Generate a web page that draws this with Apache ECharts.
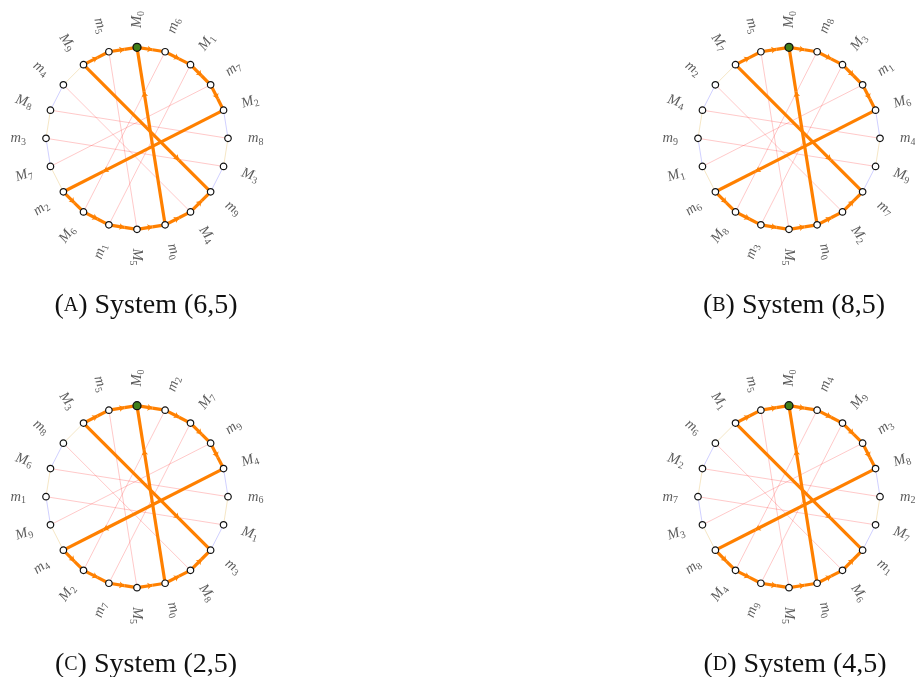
<!DOCTYPE html>
<html><head><meta charset="utf-8">
<script src="https://cdn.jsdelivr.net/npm/echarts@6/dist/echarts.min.js"></script>
<style>html,body{margin:0;padding:0;background:#fff}#c{width:915px;height:677px}</style>
</head><body><div id="c"></div>
<script>
// ---- data ----
const orderA = ['M0','m6','M1','m7','M2','m8','M3','m9','M4','m0','M5','m1','M6','m2','M7','m3','M8','m4','M9','m5'];
const orderB = ['M0','m8','M3','m1','M6','m4','M9','m7','M2','m0','M5','m3','M8','m6','M1','m9','M4','m2','M7','m5'];
const orderC = ['M0','m2','M7','m9','M4','m6','M1','m3','M8','m0','M5','m7','M2','m4','M9','m1','M6','m8','M3','m5'];
const orderD = ['M0','m4','M9','m3','M8','m2','M7','m1','M6','m0','M5','m9','M4','m8','M3','m7','M2','m6','M1','m5'];
const panelLetters = ['A','B','C','D'];
const panelSystems = ['6,5','8,5','2,5','4,5'];
// orange directed edges, as positions around the circle (same in every panel)
const orangeRim = [[18,19],[19,0],[0,1],[1,2],[2,3],[3,4],[13,12],[12,11],[11,10],[10,9],[9,8],[8,7]];
const orangeChords = [[4,13],[9,0],[18,7]];
const startPos = 0;
const matchIdx = [0,1,2,3,4,5,6,7,8,9];

// ---- layout / style ----
const orders = [orderA, orderB, orderC, orderD];
const centers = [[137,138.3],[789,138.3],[137,496.7],[789,496.7]];
const captionPos = [[141,302],[789,302],[141,661],[790,661]];
const NODE_R = 1, LABEL_R = 1.305, PIX_R = 91;
const ORANGE = '#ff8000';
const PINK = 'rgba(255,60,60,0.28)';
const BLUE = 'rgba(120,120,255,0.35)';
const YELLOW = 'rgba(235,205,140,0.5)';
const RIM_ARROW_AT = 0.55, CHORD_ARROW_AT = 0.75;

function labelRich(name){ return '{v|' + name[0] + '}{s|' + name.slice(1) + '}'; }

const polar = [], angleAxis = [], radiusAxis = [], series = [], title = [];
orders.forEach((order, k) => {
  const n = order.length, step = 360 / n;
  polar.push({ center: centers[k], radius: PIX_R * LABEL_R });
  angleAxis.push({ polarIndex: k, type: 'value', min: 0, max: 360, startAngle: 90, clockwise: true, show: false });
  radiusAxis.push({ polarIndex: k, type: 'value', min: 0, max: LABEL_R, show: false });

  const orangeSet = new Set();
  orangeRim.concat(orangeChords).forEach(([a,b]) => orangeSet.add(Math.min(a,b) + '-' + Math.max(a,b)));
  const isOrange = (a,b) => orangeSet.has(Math.min(a,b) + '-' + Math.max(a,b));

  const nodes = order.map((name, i) => ({
    name, value: [NODE_R, i * step],
    symbolSize: i === startPos ? 8 : 6.5,
    itemStyle: i === startPos ? { color: '#3f7f1a', borderColor: '#111', borderWidth: 1.3 }
                              : { color: '#fff', borderColor: '#111', borderWidth: 1.2 }
  }));
  const edges = [];
  // rim
  for (let i = 0; i < n; i++) {
    const j = (i + 1) % n;
    if (isOrange(i,j)) continue;
    edges.push({ source: order[i], target: order[j], lineStyle: { color: i % 2 === 0 ? BLUE : YELLOW, width: 1 } });
  }
  // matching chords M_i - m_i
  matchIdx.forEach(d => {
    const a = order.indexOf('M' + d), b = order.indexOf('m' + d);
    if (isOrange(a,b)) return;
    edges.push({ source: order[a], target: order[b], lineStyle: { color: PINK, width: 1 } });
  });
  // orange edges, split at an arrow point
  const addOrange = (a, b, f, id) => {
    const ta = a * step * Math.PI / 180, tb = b * step * Math.PI / 180;
    const x = Math.sin(ta) + f * (Math.sin(tb) - Math.sin(ta));
    const y = Math.cos(ta) + f * (Math.cos(tb) - Math.cos(ta));
    const r = Math.hypot(x, y);
    let th = Math.atan2(x, y) * 180 / Math.PI; if (th < 0) th += 360;
    const mid = 'mid' + id;
    nodes.push({ name: mid, value: [r * NODE_R, th], symbolSize: 0, itemStyle: { opacity: 0 } });
    edges.push({ source: order[a], target: mid, symbol: ['none', 'arrow'], symbolSize: [0, 5],
                 lineStyle: { color: ORANGE, width: 3.2 } });
    edges.push({ source: mid, target: order[b], lineStyle: { color: ORANGE, width: 3.2 } });
  };
  orangeRim.forEach(([a,b], i) => addOrange(a, b, RIM_ARROW_AT, 'r' + i));
  orangeChords.forEach(([a,b], i) => addOrange(a, b, CHORD_ARROW_AT, 'c' + i));

  series.push({
    type: 'graph', coordinateSystem: 'polar', polarIndex: k,
    data: nodes, edges: edges, symbol: 'circle',
    lineStyle: { opacity: 1, curveness: 0 },
    label: { show: false }, emphasis: { disabled: true }, silent: true, z: 2
  });

  series.push({
    type: 'scatter', coordinateSystem: 'polar', polarIndex: k, clip: false,
    symbolSize: 0, silent: true, z: 3,
    data: order.map((name, i) => {
      const phi = 90 - i * step; // math angle
      const c = Math.cos(phi * Math.PI / 180);
      let rot = phi;
      if (c < -1e-6) rot = phi + 180;
      rot = ((rot % 360) + 540) % 360 - 180;
      return { value: [LABEL_R, i * step], label: { rotate: rot }, name };
    }),
    label: {
      show: true, position: 'inside', formatter: p => labelRich(p.name),
      rich: {
        v: { fontFamily: 'Liberation Serif', fontStyle: 'italic', fontSize: 14.5, color: '#333', lineHeight: 18 },
        s: { fontFamily: 'Liberation Serif', fontSize: 10, color: '#333', lineHeight: 9, verticalAlign: 'bottom' }
      }
    }
  });

  title.push({
    text: '{p|(}{sc|' + panelLetters[k] + '}{p|) System (' + panelSystems[k] + ')}',
    left: captionPos[k][0], top: captionPos[k][1] - 15, textAlign: 'center',
    textStyle: { fontWeight: 'normal', rich: {
      p: { fontFamily: 'Liberation Serif', fontSize: 28, fontWeight: 'normal', color: '#111' },
      sc: { fontFamily: 'Liberation Serif', fontSize: 20, fontWeight: 'normal', color: '#111' }
    } }
  });
});

const chart = echarts.init(document.getElementById('c'), null, { renderer: 'canvas' });
chart.setOption({ animation: false, backgroundColor: '#fff', title, polar, angleAxis, radiusAxis, series });
</script></body></html>
